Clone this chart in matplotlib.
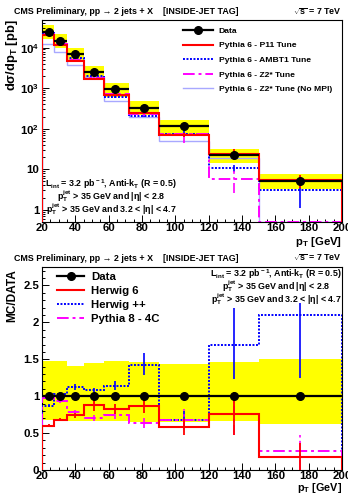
import numpy as np
import matplotlib.pyplot as plt
from matplotlib.ticker import MultipleLocator, LogLocator, NullFormatter, FixedLocator, FuncFormatter
from matplotlib.lines import Line2D

plt.rcParams['font.family'] = ['Liberation Sans', 'DejaVu Sans']
plt.rcParams['font.weight'] = 'bold'
plt.rcParams['mathtext.fontset'] = 'custom'
plt.rcParams['mathtext.rm'] = 'Liberation Sans:bold'
plt.rcParams['mathtext.it'] = 'Liberation Sans:bold:italic'
plt.rcParams['mathtext.bf'] = 'Liberation Sans:bold'
plt.rcParams['axes.linewidth'] = 0.8

# --- data ---
edges = [20, 27, 35, 45, 57, 72, 90, 120, 150, 200]
centers = [24, 31, 40, 51, 64, 81, 105, 135, 175]

# top panel: cross sections [pb]
data_xs = [2.45e4, 1.45e4, 6.9e3, 2.45e3, 930, 330, 117, 22, 5.2]
p11 = [2.1e4, 1.18e4, 4.6e3, 1.7e3, 680, 250, 71, 24, 5.4]
ambt1 = [2.3e4, 1.3e4, 5.5e3, 1.95e3, 620, 210, 76, 10.5, 3.1]
z2star = [2.2e4, 1.22e4, 5.0e3, 1.75e3, 700, 230, 73, 5.9, 0.51]
z2nompi = [1.26e4, 8.0e3, 3.8e3, 1.85e3, 480, 190, 49, 18.6, 0.51]
# relative MC errors (top panel)
p11_err = [0.02, 0.02, 0.03, 0.05, 0.06, 0.08, 0.12, 0.3, 0.35]
ambt1_err = [0.02, 0.02, 0.03, 0.04, 0.06, 0.1, 0.2, 0.2, 0.65]
z2star_err = [0.02, 0.02, 0.03, 0.05, 0.06, 0.1, 0.4, 0.55, 0.0]

# systematic band relative to data
band_hi = [1.48, 1.47, 1.41, 1.45, 1.47, 1.46, 1.44, 1.46, 1.50]
band_lo = [0.68, 0.68, 0.66, 0.66, 0.66, 0.65, 0.65, 0.66, 0.62]

# bottom panel: MC / DATA
herwig6 = [0.60, 0.68, 0.74, 0.88, 0.83, 0.87, 0.58, 0.76, 0.18]
herwigpp = [0.87, 1.03, 1.13, 1.08, 1.14, 1.42, 0.68, 1.70, 2.10]
pythia8 = [0.97, 0.94, 0.78, 0.71, 0.74, 0.64, 0.68, 0.76, 0.26]
herwig6_err = [0.02, 0.02, 0.03, 0.08, 0.07, 0.10, 0.11, 0.29, 0.18]
herwigpp_lo = [0.02, 0.03, 0.04, 0.03, 0.06, 0.13, 0.12, 0.47, 0.86]
herwigpp_hi = [0.02, 0.03, 0.04, 0.03, 0.06, 0.16, 0.12, 0.50, 0.16]
pythia8_err = [0.02, 0.03, 0.03, 0.04, 0.05, 0.07, 0.14, 0.29, 0.26]

red = '#ff0000'
blue = '#0000ff'
mag = '#ff00ff'
lav = '#a8a8ff'
dot = (0, (1, 0.8))
dashdot = (0, (6, 2, 1.5, 2))

c = np.array(centers)
xerr = [c - np.array(edges[:-1]), np.array(edges[1:]) - c]

fig = plt.figure(figsize=(3.48, 4.94), dpi=100)
W, H = 348.0, 494.0

def px(x, y):
    return x / W, 1 - y / H

ax1 = fig.add_axes([42 / W, 1 - 222 / H, 300 / W, 202 / H])
ax2 = fig.add_axes([42 / W, 1 - 470 / H, 300 / W, 203 / H])

# ---------------- top panel ----------------
d = np.array(data_xs)
ax1.stairs(d * np.array(band_hi), edges, baseline=d * np.array(band_lo),
           fill=True, color='#ffff00', lw=0, zorder=1)
ax1.stairs(z2nompi, edges, color=lav, lw=1.0, zorder=2)
ax1.stairs(ambt1, edges, color=blue, lw=1.4, ls=dot, zorder=3)
ax1.stairs(z2star, edges, color=mag, lw=1.4, ls=dashdot, zorder=4)
ax1.stairs(p11, edges, color=red, lw=1.5, zorder=5)
ax1.errorbar(c, ambt1, yerr=np.array(ambt1) * np.array(ambt1_err), fmt='none',
             ecolor=blue, elinewidth=1.2, ls=dot, zorder=3)
e = ax1.errorbar(c, z2star, yerr=np.array(z2star) * np.array(z2star_err), fmt='none',
                 ecolor=mag, elinewidth=1.2, zorder=4)
e[2][0].set_linestyle(dashdot)
ax1.errorbar(c, p11, yerr=np.array(p11) * np.array(p11_err), fmt='none',
             ecolor=red, elinewidth=1.3, zorder=5)
ax1.errorbar(c, d, xerr=xerr, yerr=d * 0.03, fmt='o', color='black', ms=5.5,
             elinewidth=1.6, capsize=0, zorder=6)

ax1.set_yscale('log')
ax1.set_xlim(20, 200)
ax1.set_ylim(0.5, 4.8e4)

def logfmt(v, pos):
    if abs(v - 1) < 1e-9:
        return '1'
    if abs(v - 10) < 1e-9:
        return '10'
    return r'10$^{%d}$' % int(round(np.log10(v)))

ax1.yaxis.set_major_locator(FixedLocator([1, 10, 100, 1000, 10000]))
ax1.yaxis.set_major_formatter(FuncFormatter(logfmt))
ax1.yaxis.set_minor_locator(LogLocator(base=10, subs=np.arange(2, 10)))
ax1.yaxis.set_minor_formatter(NullFormatter())

# legend top
h_data = Line2D([], [], color='black', lw=1.6, marker='o', ms=5.5)
handles = [h_data,
           Line2D([], [], color=red, lw=1.5),
           Line2D([], [], color=blue, lw=1.4, ls=dot),
           Line2D([], [], color=mag, lw=1.4, ls=dashdot),
           Line2D([], [], color=lav, lw=1.0)]
labels = ['Data', 'Pythia 6 - P11 Tune', 'Pythia 6 - AMBT1 Tune',
          'Pythia 6 - Z2* Tune', 'Pythia 6 - Z2* Tune (No MPI)']
fig.legend(handles, labels, loc='upper left', bbox_to_anchor=px(183, 27),
           frameon=False, fontsize=6.1, borderpad=0, borderaxespad=0,
           handlelength=3.5, handletextpad=0.7, labelspacing=0.78)

tfs = 6.4
fig.text(*px(111, 184), r'L$_{\rm int}$ = 3.2 pb$^{\rm -1}$, Anti-k$_{\rm T}$ (R = 0.5)',
         ha='center', va='center', fontsize=tfs)
fig.text(*px(111, 196), r'p$_{\rm T}^{\rm jet}$ > 35 GeV and |η| < 2.8',
         ha='center', va='center', fontsize=tfs)
fig.text(*px(111, 209), r'p$_{\rm T}^{\rm jet}$ > 35 GeV and 3.2 < |η| < 4.7',
         ha='center', va='center', fontsize=tfs)

# ---------------- bottom panel ----------------
ax2.stairs(band_hi, edges, baseline=band_lo, fill=True, color='#ffff00', lw=0, zorder=1)
ax2.stairs(herwigpp, edges, color=blue, lw=1.4, ls=dot, zorder=3)
ax2.stairs(pythia8, edges, color=mag, lw=1.4, ls=dashdot, zorder=4)
ax2.stairs(herwig6, edges, color=red, lw=1.5, zorder=5)
ax2.errorbar(c, herwigpp, yerr=[herwigpp_lo, herwigpp_hi], fmt='none',
             ecolor=blue, elinewidth=1.2, ls=dot, zorder=3)
e = ax2.errorbar(c, pythia8, yerr=pythia8_err, fmt='none', ecolor=mag,
                 elinewidth=1.2, zorder=4)
e[2][0].set_linestyle(dashdot)
ax2.errorbar(c, herwig6, yerr=herwig6_err, fmt='none', ecolor=red,
             elinewidth=1.3, zorder=5)
ax2.errorbar(c, np.ones(len(c)), xerr=xerr, fmt='o', color='black', ms=5.5,
             elinewidth=1.6, capsize=0, zorder=6)
ax2.set_xlim(20, 200)
ax2.set_ylim(0, 2.75)
ax2.yaxis.set_major_locator(MultipleLocator(0.5))
ax2.yaxis.set_minor_locator(MultipleLocator(0.1))
ax2.yaxis.set_major_formatter(FuncFormatter(lambda v, p: '%g' % v))

h_data2 = Line2D([], [], color='black', lw=1.6, marker='o', ms=5.5)
handles2 = [h_data2,
            Line2D([], [], color=red, lw=1.5),
            Line2D([], [], color=blue, lw=1.4, ls=dot),
            Line2D([], [], color=mag, lw=1.4, ls=dashdot)]
labels2 = ['Data', 'Herwig 6', 'Herwig ++', 'Pythia 8 - 4C']
fig.legend(handles2, labels2, loc='upper left', bbox_to_anchor=px(57, 272),
           frameon=False, fontsize=8.2, borderpad=0, borderaxespad=0,
           handlelength=2.4, handletextpad=0.6, labelspacing=0.36)

fig.text(*px(276, 274), r'L$_{\rm int}$ = 3.2 pb$^{\rm -1}$, Anti-k$_{\rm T}$ (R = 0.5)',
         ha='center', va='center', fontsize=tfs)
fig.text(*px(276, 286), r'p$_{\rm T}^{\rm jet}$ > 35 GeV and |η| < 2.8',
         ha='center', va='center', fontsize=tfs)
fig.text(*px(276, 299), r'p$_{\rm T}^{\rm jet}$ > 35 GeV and 3.2 < |η| < 4.7',
         ha='center', va='center', fontsize=tfs)

# common styling
for ax in (ax1, ax2):
    ax.xaxis.set_major_locator(MultipleLocator(20))
    ax.xaxis.set_minor_locator(MultipleLocator(5))
    ax.tick_params(which='both', direction='in', top=False, right=False,
                   labelsize=8.2, pad=2)
    ax.tick_params(axis='x', pad=1.0)
    ax.tick_params(which='major', length=5, width=0.7)
    ax.tick_params(which='minor', length=2.5, width=0.7)
    for lab in ax.get_xticklabels() + ax.get_yticklabels():
        lab.set_fontweight('bold')

for ytit in (12, 258):
    fig.text(*px(14, ytit), 'CMS Preliminary, pp \u2192 2 jets + X    [INSIDE-JET TAG]',
             ha='left', va='center', fontsize=6.4)
    fig.text(*px(342, ytit), r'$\sqrt{\rm s}$ = 7 TeV', ha='right', va='center', fontsize=6.4)

fig.text(*px(342, 242), r'p$_{\rm T}$ [GeV]', ha='right', va='center', fontsize=8.2)
fig.text(*px(342, 488), r'p$_{\rm T}$ [GeV]', ha='right', va='center', fontsize=7.8)
fig.text(*px(12, 19), r'dσ/dp$_{\rm T}$ [pb]', ha='center', va='top', rotation=90, fontsize=9.4)
fig.text(*px(12, 269), 'MC/DATA', ha='center', va='top', rotation=90, fontsize=8.6)

fig.savefig('out.png', dpi=100)
